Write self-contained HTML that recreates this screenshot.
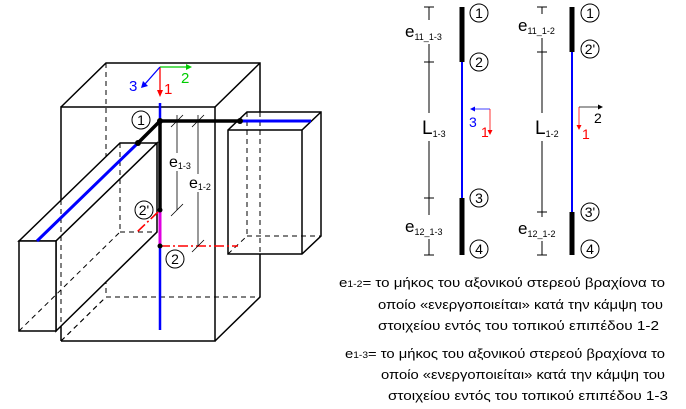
<!DOCTYPE html>
<html><head><meta charset="utf-8"><style>
html,body{margin:0;padding:0;background:#fff;}
svg{display:block;font-family:"Liberation Sans",sans-serif;}
</style></head><body>
<svg width="686" height="409" viewBox="0 0 686 409" xmlns="http://www.w3.org/2000/svg">
<g fill="none" stroke="#000" stroke-width="1">
<g stroke-dasharray="5,4">
<line x1="106" y1="63" x2="106" y2="297"/>
<line x1="106" y1="297" x2="260" y2="297"/>
<line x1="61" y1="341" x2="106" y2="297"/>
</g>
<g stroke-width="1.5">
<polyline points="61,107 106,63 260,63 260,297 215,341"/>
<line x1="215" y1="107" x2="260" y2="63"/>
<polyline points="61,341 61,107 215,107 215,341 61,341"/>
<!-- slab -->
<polygon points="19,241 56,241 157,143 120,143" fill="#fff"/>
<polygon points="56,241 157,143 157,232 56,331" fill="#fff"/>
<rect x="19" y="241" width="37" height="90" fill="#fff"/>
<!-- right beam -->
<polygon points="228,130 247,112 321,112 321,236 302,254 228,254" fill="#fff"/>
<line x1="228" y1="130" x2="302" y2="130"/>
<line x1="302" y1="130" x2="321" y2="112"/>
<line x1="302" y1="130" x2="302" y2="254"/>
</g>
<g stroke-dasharray="5,4">
<line x1="120" y1="143" x2="120" y2="232"/>
<line x1="120" y1="232" x2="157" y2="232"/>
<line x1="19" y1="331" x2="120" y2="232"/>
<line x1="61" y1="200" x2="61" y2="331"/>
<line x1="61" y1="341" x2="106" y2="297"/>
<line x1="247" y1="112" x2="247" y2="236"/>
<line x1="247" y1="236" x2="321" y2="236"/>
<line x1="228" y1="254" x2="247" y2="236"/>
<line x1="260" y1="112" x2="260" y2="254"/>
</g>
</g>
<g stroke="#0000ff" stroke-width="3">
<line x1="160" y1="103" x2="160" y2="330" stroke-width="2.5"/>
<line x1="138" y1="143" x2="37" y2="241"/>
<line x1="240" y1="121" x2="311" y2="121"/>
</g>
<g stroke="#000" stroke-width="3.5">
<line x1="160" y1="121" x2="240" y2="121"/>
<line x1="160" y1="121" x2="138" y2="143"/>
<line x1="160" y1="121" x2="160" y2="210"/>
</g>
<line x1="160" y1="210" x2="160" y2="246" stroke="#e000e0" stroke-width="3"/>
<g stroke="#ff0000" stroke-width="1.6" stroke-dasharray="10,3,2,3">
<line x1="160" y1="246" x2="238" y2="246"/>
<line x1="158" y1="212" x2="137" y2="232"/>
</g>
<g fill="#000">
<circle cx="160" cy="121" r="3"/><circle cx="138" cy="143" r="3"/><circle cx="240" cy="121" r="3"/>
<circle cx="160" cy="210" r="2.5"/><circle cx="160" cy="246" r="2.5"/>
</g>
<g stroke="#000" stroke-width="0.8">
<line x1="177" y1="115" x2="177" y2="210"/>
<line x1="198" y1="115" x2="198" y2="246"/>
<line x1="171" y1="127" x2="183" y2="115"/><line x1="171" y1="216" x2="183" y2="204"/>
<line x1="192" y1="127" x2="204" y2="115"/><line x1="192" y1="252" x2="204" y2="240"/>
</g>
<rect x="166" y="153" width="26" height="18" fill="#fff"/>
<rect x="187" y="174" width="26" height="18" fill="#fff"/>
<text x="169" y="167" font-size="16">e<tspan font-size="9" dy="2">1-3</tspan></text>
<text x="189" y="188" font-size="16">e<tspan font-size="9" dy="2">1-2</tspan></text>
<g stroke-width="1.3">
<line x1="160" y1="67" x2="160" y2="92" stroke="#ff0000"/>
<line x1="160" y1="67" x2="188" y2="67" stroke="#00cc00"/>
<line x1="160" y1="67" x2="145" y2="84" stroke="#0000ff"/>
</g>
<polygon points="157,90 163,90 160,97" fill="#ff0000"/>
<polygon points="186,64 186,70 192,67" fill="#00cc00"/>
<polygon points="141,88 143,81 148,86" fill="#0000ff"/>
<text x="129" y="91" font-size="15" fill="#0000ff">3</text>
<text x="164" y="94" font-size="15" fill="#ff0000">1</text>
<text x="181" y="83" font-size="15" fill="#00cc00">2</text>
<g font-size="14" text-anchor="middle">
<circle cx="141" cy="120" r="9" fill="#fff" stroke="#000"/><text x="141" y="125">1</text>
<circle cx="144" cy="210" r="9" fill="#fff" stroke="#000"/><text x="144" y="215">2'</text>
<circle cx="175" cy="259" r="9" fill="#fff" stroke="#000"/><text x="175" y="264">2</text>
</g>
<g stroke="#000" stroke-width="1">
<line x1="429" y1="7" x2="429" y2="255"/>
<line x1="424" y1="7" x2="434" y2="7"/><line x1="424" y1="62" x2="434" y2="62"/>
<line x1="424" y1="198" x2="434" y2="198"/><line x1="424" y1="255" x2="434" y2="255"/>
<line x1="542" y1="7" x2="542" y2="255"/>
<line x1="537" y1="7" x2="547" y2="7"/><line x1="537" y1="52" x2="547" y2="52"/>
<line x1="537" y1="212" x2="547" y2="212"/><line x1="537" y1="255" x2="547" y2="255"/>
</g>
<g fill="#fff">
<rect x="404" y="20" width="50" height="24"/><rect x="412" y="113" width="40" height="28"/><rect x="404" y="215" width="50" height="24"/>
<rect x="517" y="14" width="50" height="24"/><rect x="525" y="113" width="40" height="28"/><rect x="517" y="217" width="50" height="24"/>
</g>
<g font-size="17">
<text x="405" y="37">e<tspan font-size="9" dy="3">11_1-3</tspan></text>
<text x="422" y="134" font-size="19">L<tspan font-size="9" dy="3">1-3</tspan></text>
<text x="405" y="232">e<tspan font-size="9" dy="3">12_1-3</tspan></text>
<text x="518" y="31">e<tspan font-size="9" dy="3">11_1-2</tspan></text>
<text x="535" y="134" font-size="19">L<tspan font-size="9" dy="3">1-2</tspan></text>
<text x="518" y="234">e<tspan font-size="9" dy="3">12_1-2</tspan></text>
</g>
<g stroke-width="5" stroke="#000">
<line x1="462" y1="7" x2="462" y2="62"/>
<line x1="462" y1="198" x2="462" y2="255"/>
<line x1="572" y1="7" x2="572" y2="52"/>
<line x1="572" y1="212" x2="572" y2="255"/>
</g>
<line x1="462" y1="62" x2="462" y2="198" stroke="#0000ff" stroke-width="2"/>
<line x1="572" y1="52" x2="572" y2="212" stroke="#0000ff" stroke-width="2"/>
<g font-size="14" text-anchor="middle">
<circle cx="479" cy="13" r="9" fill="#fff" stroke="#000"/><text x="479" y="18">1</text>
<circle cx="479" cy="62" r="9" fill="#fff" stroke="#000"/><text x="479" y="67">2</text>
<circle cx="479" cy="198" r="9" fill="#fff" stroke="#000"/><text x="479" y="203">3</text>
<circle cx="479" cy="249" r="9" fill="#fff" stroke="#000"/><text x="479" y="254">4</text>
<circle cx="590" cy="13" r="9" fill="#fff" stroke="#000"/><text x="590" y="18">1</text>
<circle cx="590" cy="49" r="9" fill="#fff" stroke="#000"/><text x="590" y="54">2'</text>
<circle cx="590" cy="212" r="9" fill="#fff" stroke="#000"/><text x="590" y="217">3'</text>
<circle cx="590" cy="249" r="9" fill="#fff" stroke="#000"/><text x="590" y="254">4</text>
</g>
<line x1="490" y1="109" x2="473" y2="109" stroke="#0000ff" stroke-width="0.8"/>
<polygon points="470,109 475,106.5 475,111.5" fill="#0000ff"/>
<line x1="490" y1="109" x2="490" y2="132" stroke="#ff0000" stroke-width="0.8"/>
<polygon points="490,135 487.5,130 492.5,130" fill="#ff0000"/>
<text x="469" y="127" font-size="14" fill="#0000ff">3</text>
<text x="481" y="137" font-size="14" fill="#ff0000">1</text>
<line x1="579" y1="107" x2="600" y2="107" stroke="#000" stroke-width="0.8"/>
<polygon points="603,107 598,104.5 598,109.5" fill="#000"/>
<line x1="579" y1="107" x2="579" y2="127" stroke="#ff0000" stroke-width="0.8"/>
<polygon points="579,130 576.5,125 581.5,125" fill="#ff0000"/>
<text x="594" y="123" font-size="14">2</text>
<text x="582" y="139" font-size="14" fill="#ff0000">1</text>
<g font-size="13" fill="#000">
<text x="339" y="287" textLength="326" lengthAdjust="spacingAndGlyphs">e<tspan font-size="9">1-2</tspan>= το μήκος του αξονικού στερεού βραχίονα το</text>
<text x="378" y="309" textLength="285" lengthAdjust="spacingAndGlyphs">οποίο «ενεργοποιείται» κατά την κάμψη του</text>
<text x="378" y="330" textLength="281" lengthAdjust="spacingAndGlyphs">στοιχείου εντός του τοπικού επιπέδου 1-2</text>
<text x="345" y="358" textLength="320" lengthAdjust="spacingAndGlyphs">e<tspan font-size="9">1-3</tspan>= το μήκος του αξονικού στερεού βραχίονα το</text>
<text x="381" y="379" textLength="284" lengthAdjust="spacingAndGlyphs">οποίο «ενεργοποιείται» κατά την κάμψη του</text>
<text x="388" y="400" textLength="280" lengthAdjust="spacingAndGlyphs">στοιχείου εντός του τοπικού επιπέδου 1-3</text>
</g>
</svg>
</body></html>
